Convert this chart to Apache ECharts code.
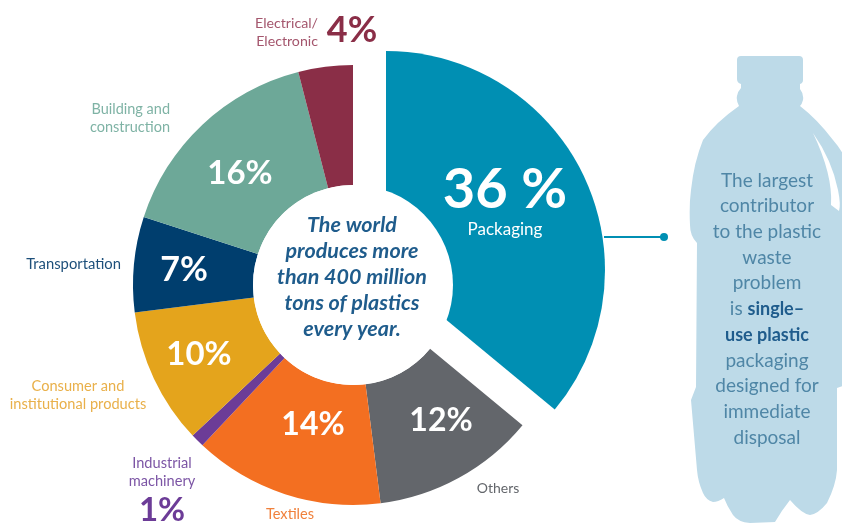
<!DOCTYPE html>
<html><head><meta charset="utf-8">
<style>html,body{margin:0;padding:0;background:#fff}#c{width:842px;height:523px}</style>
<script src="https://cdn.jsdelivr.net/npm/echarts@6/dist/echarts.min.js"></script>
</head><body><div id="c"></div>
<script>
const categories = ['Others','Textiles','Industrial machinery','Consumer and institutional products','Transportation','Building and construction','Electrical/Electronic'];
const values = [12,14,1,10,7,16,4];
const colors = ['#63666b','#f36f21','#6c3c97','#e4a41c','#003e6e','#6da898','#8a2e47'];
const packagingName = 'Packaging';
const packagingValue = 36;
const packagingColor = '#008fb3';
const centerLines = ['The world','produces more','than 400 million','tons of plastics','every year.'];
const bottleLines = ['{n|The largest}','{n|contributor}','{n|to the plastic}','{n|waste}','{n|problem}','{n|is }{b|single–}','{b|use plastic}','{n|packaging}','{n|designed for}','{n|immediate}','{n|disposal}'];

const F = 'Lato, sans-serif';
const pct = n => values[categories.indexOf(n)] + '%';
const txt = (x,y,text,size,fill,weight,align,extra) => ({type:'text',x,y,z:20,silent:true,
  style:Object.assign({text,fontSize:size,fontFamily:F,fontWeight:weight||'normal',fill,align:align||'center',verticalAlign:'middle'},extra||{})});

const bottlePath = 'M741 56 L799 56 Q803 56 803 60 L803 80 Q803 83 800 84 L800 89 Q804 94 803 100 Q802 104 800 106 ' +
 'Q817 119 833 140 Q841 149 846 160 L846 385 L837 388 L837 470 Q836 485 827 503 Q818 514 810 515 Q802 514 790 500 ' +
 'Q782 510 775 522 L750 523 Q738 522 733 515 Q727 506 724 498 Q718 502 713 502 Q706 500 703 493 Q698 482 697 470 ' +
 'L691 400 L696 387 L697 243 Q690 236 690 225 Q689 205 691 190 Q694 162 703 140 Q716 122 739 106 Q736 100 737 96 Q738 91 741 88 L741 84 Q737 83 737 79 L737 60 Q737 56 741 56 Z';
const highlightPath = 'M813 133 Q832 160 838 190 Q841 205 839 211 L831 205 Q833 175 813 133 Z';

const chart = echarts.init(document.getElementById('c'), null, {renderer:'canvas'});
chart.setOption({
  animation:false,
  backgroundColor:'#ffffff',
  tooltip:{show:false},
  series:[
    {type:'custom',name:'bottle',coordinateSystem:'none',silent:true,z:1,data:[[0]],
     renderItem:()=>({type:'group',children:[
       {type:'path',shape:{pathData:bottlePath},style:{fill:'#bddae8'}},
       {type:'path',shape:{pathData:highlightPath},style:{fill:'#ffffff'}}
     ]})},
    {type:'pie',name:packagingName,center:[386,270],radius:[0,219],startAngle:90,clockwise:true,silent:true,z:2,
     label:{show:false},labelLine:{show:false},
     data:[{name:packagingName,value:packagingValue,itemStyle:{color:packagingColor}},
           {name:'rest',value:values.reduce((a,b)=>a+b,0),itemStyle:{color:'transparent'}}]},
    {type:'pie',name:'Other sectors',center:[353,285],radius:[100,220],startAngle:90,clockwise:true,silent:true,z:3,
     label:{show:false},labelLine:{show:false},
     data:[{name:'gap',value:packagingValue,itemStyle:{color:'transparent'}}]
       .concat(categories.map((n,i)=>({name:n,value:values[i],itemStyle:{color:colors[i]}})))},
    {type:'pie',name:'hole',center:[353,285],radius:[0,100],silent:true,z:4,label:{show:false},labelLine:{show:false},
     data:[{name:'hole',value:1,itemStyle:{color:'#ffffff'}}]}
  ],
  graphic:[
    {type:'line',z:10,silent:true,shape:{x1:604,y1:237,x2:664,y2:237},style:{stroke:packagingColor,lineWidth:2}},
    {type:'circle',z:10,silent:true,shape:{cx:664,cy:237,r:4},style:{fill:packagingColor}},

    txt(505,190,packagingValue+' %',56,'#ffffff','bold'),
    txt(505,230,packagingName,17,'#ffffff'),
    txt(240,173,pct(categories[5]),33,'#ffffff','bold'),
    txt(184,270,pct(categories[4]),34,'#ffffff','bold'),
    txt(199,354,pct(categories[3]),33,'#ffffff','bold'),
    txt(313,425,pct(categories[1]),32,'#ffffff','bold'),
    txt(441,421,pct(categories[0]),32,'#ffffff','bold'),

    txt(352,277.5,centerLines.join('\n'),21.5,'#1f5c8c','bold','center',{fontStyle:'italic',lineHeight:26}),

    txt(318,32,'Electrical/\nElectronic',14.2,'#a4566d','normal','right',{lineHeight:18}),
    txt(352,30,pct(categories[6]),36,'#8a2e47','bold'),
    txt(170,118,'Building and\nconstruction',14.5,'#7fb3a5','normal','right',{lineHeight:18}),
    txt(121,264,categories[4],14.8,'#1d4f7a','normal','right'),
    txt(78,395,'Consumer and\ninstitutional products',14.6,'#e9b04a','normal','center',{lineHeight:18}),
    txt(162,472,'Industrial\nmachinery',14.6,'#7c55a5','normal','center',{lineHeight:18}),
    txt(162,510,pct(categories[2]),33,'#6c3c97','bold'),
    txt(290,514,categories[1],14.6,'#f0813c','normal'),
    txt(498,488,categories[0],14,'#63666b','normal'),

    {type:'text',x:767,y:309,z:20,silent:true,style:{
      text:bottleLines.join('\n'),align:'center',verticalAlign:'middle',
      rich:{n:{fontFamily:F,fontSize:19,lineHeight:25.7,fill:'#4f86a6'},
            b:{fontFamily:F,fontSize:18,lineHeight:25.7,fontWeight:'bold',fill:'#1f5c8c'}}}}
  ]
});
</script></body></html>
